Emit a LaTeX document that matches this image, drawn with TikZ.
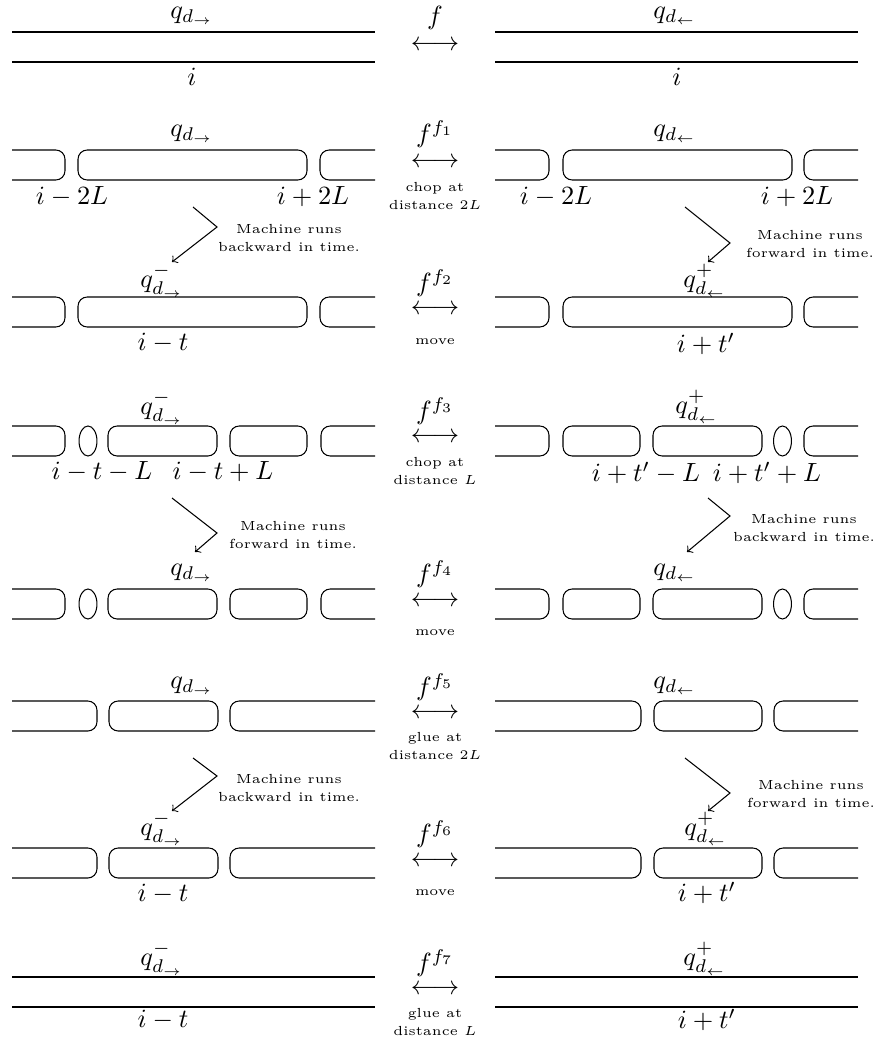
\documentclass[tikz,border=0pt]{standalone}
\usepackage{amsmath}
\usetikzlibrary{positioning}

\begin{document}
\begin{tikzpicture}[
x=0.38pt, y=-0.38pt,
tape/.style={rounded corners=3.5pt},
blob/.style={x radius=3.4pt, y radius=5.7pt},
note/.style={align=center, font={\fontsize{5pt}{6.8pt}\selectfont}, inner sep=1pt},
]
\useasboundingbox (0,0) rectangle (878,1046);

%Tapes
\foreach \t in {32,977} {
  \draw (12,\t) -- (375,\t) (12,\t+30) -- (375,\t+30);
  \draw (495,\t) -- (858,\t) (495,\t+30) -- (858,\t+30);
}
\foreach \t in {150,297} {
  \draw[tape] (12,\t) -- (65,\t) -- (65,\t+30) -- (12,\t+30);
  \draw[tape] (78,\t) rectangle (307,\t+30);
  \draw[tape] (375,\t) -- (320,\t) -- (320,\t+30) -- (375,\t+30);
  \draw[tape] (495,\t) -- (549,\t) -- (549,\t+30) -- (495,\t+30);
  \draw[tape] (563,\t) rectangle (792,\t+30);
  \draw[tape] (858,\t) -- (804,\t) -- (804,\t+30) -- (858,\t+30);
}
\foreach \t in {426,589} {
  \draw[tape] (12,\t) -- (65,\t) -- (65,\t+30) -- (12,\t+30);
  \draw (88,\t+15) ellipse [blob];
  \draw[tape] (108,\t) rectangle (217,\t+30);
  \draw[tape] (230,\t) rectangle (307,\t+30);
  \draw[tape] (375,\t) -- (321,\t) -- (321,\t+30) -- (375,\t+30);
  \draw[tape] (495,\t) -- (549,\t) -- (549,\t+30) -- (495,\t+30);
  \draw[tape] (563,\t) rectangle (640,\t+30);
  \draw[tape] (653,\t) rectangle (762,\t+30);
  \draw (782.5,\t+15) ellipse [blob];
  \draw[tape] (858,\t) -- (804,\t) -- (804,\t+30) -- (858,\t+30);
}
\foreach \t in {701,848} {
  \draw[tape] (12,\t) -- (97,\t) -- (97,\t+30) -- (12,\t+30);
  \draw[tape] (109,\t) rectangle (218,\t+30);
  \draw[tape] (375,\t) -- (230,\t) -- (230,\t+30) -- (375,\t+30);
  \draw[tape] (495,\t) -- (641,\t) -- (641,\t+30) -- (495,\t+30);
  \draw[tape] (654,\t) rectangle (762,\t+30);
  \draw[tape] (858,\t) -- (774,\t) -- (774,\t+30) -- (858,\t+30);
}

%Middle column
\node (f0) at (435,18) {$f$};
\node (lr0) at (435,46) {$\longleftrightarrow$};
\foreach \k/\fy/\ay/\cy/\cap in {1/134/163/196/{chop at\\distance $2L$},
    2/283/310/342/{move}, 3/411/438/471/{chop at\\distance $L$},
    4/574/602/633/{move}, 5/687/714/746/{glue at\\distance $2L$},
    6/834/862/893/{move}, 7/963/990/1022/{glue at\\distance $L$}} {
  \node (f\k) at (435,\fy) {$f^{f_{\k}}$};
  \node (lr\k) at (435,\ay) {$\longleftrightarrow$};
  \node[note] (cap\k) at (435,\cy) {\cap};
}

%Labels
\node (q0l) at (192,16) {$q_{d_\rightarrow}$};
\node (i0l) at (192,77) {$i$};
\node (q0r) at (675,16) {$q_{d_\leftarrow}$};
\node (i0r) at (677,77) {$i$};

\node (q1l) at (192,134) {$q_{d_\rightarrow}$};
\node (a1l) at (72,197) {$i-2L$};
\node (b1l) at (313,197) {$i+2L$};
\node (q1r) at (675,134) {$q_{d_\leftarrow}$};
\node (a1r) at (556,197) {$i-2L$};
\node (b1r) at (797,197) {$i+2L$};

\node (q2l) at (162,281) {$q^-_{d_\rightarrow}$};
\node (a2l) at (163,343) {$i-t$};
\node (q2r) at (705,281) {$q^+_{d_\leftarrow}$};
\node (a2r) at (706,344) {$i+t'$};

\node (q3l) at (162,408) {$q^-_{d_\rightarrow}$};
\node (a3l) at (102,472) {$i-t-L$};
\node (b3l) at (223,472) {$i-t+L$};
\node (q3r) at (697,407) {$q^+_{d_\leftarrow}$};
\node (a3r) at (646,473) {$i+t'-L$};
\node (b3r) at (767,473) {$i+t'+L$};

\node (q4l) at (192,573) {$q_{d_\rightarrow}$};
\node (q4r) at (675,573) {$q_{d_\leftarrow}$};

\node (q5l) at (192,686) {$q_{d_\rightarrow}$};
\node (q5r) at (675,686) {$q_{d_\leftarrow}$};

\node (q6l) at (162,829) {$q^-_{d_\rightarrow}$};
\node (a6l) at (163,894) {$i-t$};
\node (q6r) at (706,829) {$q^+_{d_\leftarrow}$};
\node (a6r) at (707,893) {$i+t'$};

\node (q7l) at (162,959) {$q^-_{d_\rightarrow}$};
\node (a7l) at (163,1020) {$i-t$};
\node (q7r) at (705,959) {$q^+_{d_\leftarrow}$};
\node (a7r) at (707,1020) {$i+t'$};

%Machine notes
\node[note] (m1l) at (289,238) {Machine runs\\backward in time.};
\node[note] (m1r) at (810,244) {Machine runs\\forward in time.};
\node[note] (m2l) at (293,535) {Machine runs\\forward in time.};
\node[note] (m2r) at (804,528) {Machine runs\\backward in time.};
\node[note] (m3l) at (289,788) {Machine runs\\backward in time.};
\node[note] (m3r) at (811,794) {Machine runs\\forward in time.};

%Lines
\foreach \n/\sx/\sy/\kx/\ky/\ex/\ey in {1l/193/207/217/227/172/262,
    1r/685/207/730/243/708/262, 2l/172/498/217/533/195/552,
    2r/708/498/730/516/687/552, 3l/193/758/217/776/172/811,
    3r/685/758/730/793/708/811} {
  \coordinate (s\n) at (\sx,\sy);
  \coordinate (k\n) at (\kx,\ky);
  \coordinate (e\n) at (\ex,\ey);
  \draw[->] (s\n) -- (k\n) -- (e\n);
}

\end{tikzpicture}
\end{document}
